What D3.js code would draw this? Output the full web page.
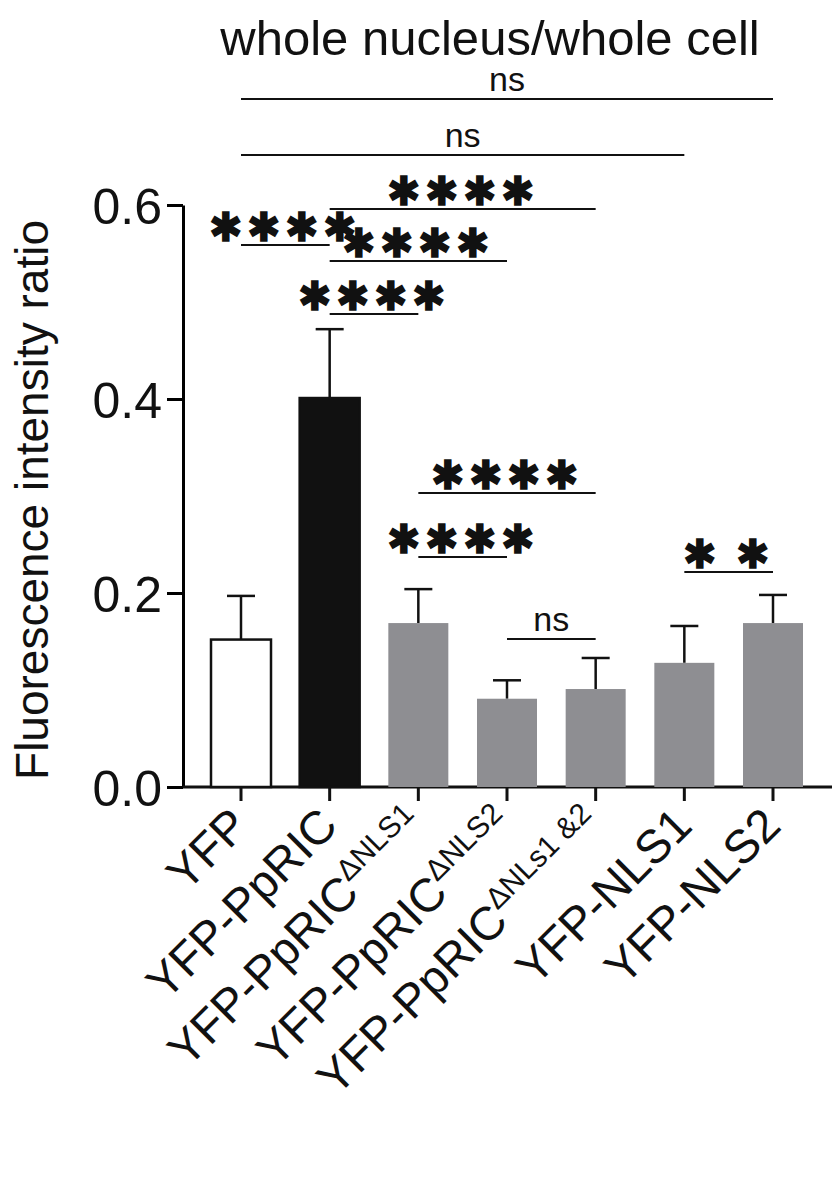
<!DOCTYPE html><html><head><meta charset="utf-8"><script src="https://cdn.jsdelivr.net/npm/d3@7"></script>
<style>body{margin:0;background:#fff}</style></head><body><svg id="c" width="832" height="1185"></svg>
<script>
const categories=["YFP","YFP-PpRIC","YFP-PpRIC ΔNLS1","YFP-PpRIC ΔNLS2","YFP-PpRIC ΔNLs1 &2","YFP-NLS1","YFP-NLS2"];
const labelMain=["YFP","YFP-PpRIC","YFP-PpRIC","YFP-PpRIC","YFP-PpRIC","YFP-NLS1","YFP-NLS2"];
const labelSup=["","","ΔNLS1","ΔNLS2","ΔNLs1 &2","",""];
const means=[0.152,0.401,0.169,0.091,0.101,0.128,0.169];
const sds=[0.045,0.071,0.035,0.019,0.032,0.038,0.029];
const fills=["#ffffff","#111111","#8e8e92","#8e8e92","#8e8e92","#8e8e92","#8e8e92"];
const yTicks=[0,0.2,0.4,0.6];
const comparisons=[[0,6,"ns",99],[0,5,"ns",155],[1,4,"****",209],[0,1,"****",245],[1,3,"****",261],[1,2,"****",314],[2,4,"****",493],[2,3,"****",557],[3,4,"ns",639],[5,6,"* *",572]];
const svg=d3.select("#c");const F="Arial, Liberation Sans, sans-serif";
const xp=d3.scalePoint().domain(d3.range(7)).range([241,773]);
const bw=60;
const y=d3.scaleLinear().domain([0,0.6]).range([787,205]);
const cx=i=>xp(i);
const ya=svg.append("g").attr("transform","translate(183,0)").call(d3.axisLeft(y).tickValues(yTicks).tickFormat(d3.format(".1f")).tickSize(16).tickSizeOuter(0));
ya.select(".domain").attr("stroke-width",3);ya.selectAll("line").attr("stroke-width",3);
ya.selectAll("text").attr("font-size",50).attr("font-family",F).attr("fill","#111").attr("dx",-2).attr("dy","0.36em");
svg.append("line").attr("x1",183).attr("x2",832).attr("y1",787).attr("y2",787).attr("stroke","#111").attr("stroke-width",3);
means.forEach((m,i)=>{
 svg.append("line").attr("x1",cx(i)).attr("x2",cx(i)).attr("y1",y(m)).attr("y2",y(m+sds[i])).attr("stroke","#111").attr("stroke-width",2.5);
 svg.append("line").attr("x1",cx(i)-14).attr("x2",cx(i)+14).attr("y1",y(m+sds[i])).attr("y2",y(m+sds[i])).attr("stroke","#111").attr("stroke-width",2.5);
 svg.append("rect").attr("x",cx(i)-bw/2).attr("width",bw).attr("y",y(m)).attr("height",y(0)-y(m)).attr("fill",fills[i]).attr("stroke","#111").attr("stroke-width",i<2?2.5:0);
 svg.append("line").attr("x1",cx(i)).attr("x2",cx(i)).attr("y1",787).attr("y2",801).attr("stroke","#111").attr("stroke-width",3);
 const t=svg.append("text").attr("transform",`translate(${cx(i)+10},${828}) rotate(-45)`).attr("text-anchor","end").attr("font-size",47).attr("font-family",F).attr("fill","#111");
 t.append("tspan").text(labelMain[i]);
 if(labelSup[i]) t.append("tspan").attr("dy",-18).attr("font-size",30).text(labelSup[i]);
});
comparisons.forEach(([a,b,s,yy])=>{
 svg.append("line").attr("x1",cx(a)).attr("x2",cx(b)).attr("y1",yy).attr("y2",yy).attr("stroke","#111").attr("stroke-width",2);
 const star=s.includes("*");
 svg.append("text").attr("x",(cx(a)+cx(b))/2).attr("y",star?yy-4:yy-8).attr("text-anchor","middle").attr("font-size",star?40:34).attr("font-family",F).attr("font-weight",star?"bold":"normal").attr("fill","#111").attr("letter-spacing",star?4:0).text(s.replace(/\*/g,"✱"));
});
svg.append("text").attr("x",490).attr("y",55).attr("text-anchor","middle").attr("font-size",49).attr("font-family",F).attr("fill","#111").text("whole nucleus/whole cell");
svg.append("text").attr("transform","translate(48,500) rotate(-90)").attr("text-anchor","middle").attr("font-size",46).attr("font-family",F).attr("fill","#111").text("Fluorescence intensity ratio");
</script></body></html>
